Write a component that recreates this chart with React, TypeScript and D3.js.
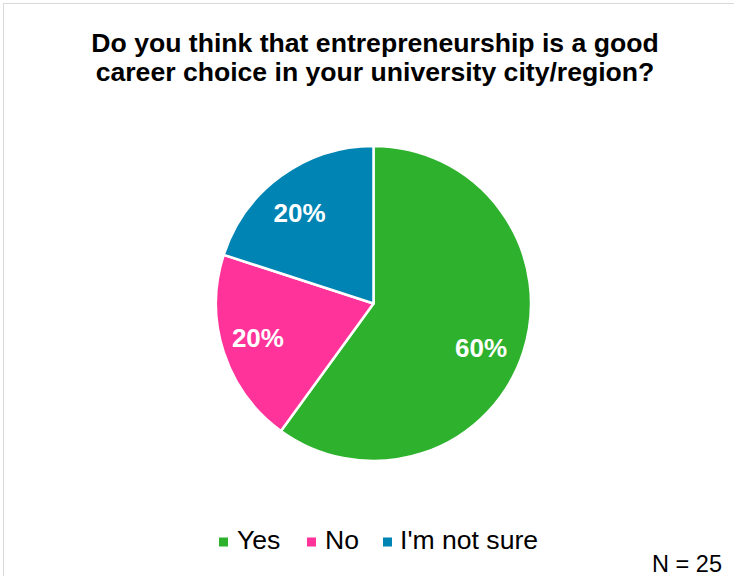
import React from "react";
import * as d3 from "d3";

const categories = ["Yes", "No", "I'm not sure"];
const values = [60, 20, 20];
const colors = ["#2EB22E", "#FF3399", "#0084B4"];
const titleLines = [
  "Do you think that entrepreneurship is a good",
  "career choice in your university city/region?",
];
const note = "N = 25";

export default function App() {
  const W = 734, H = 576;
  const cx = 373.5, cy = 303.5, r = 157.5;
  const pie = d3.pie<number>().sort(null).value((d) => d)(values);
  const arc = d3.arc<d3.PieArcDatum<number>>().innerRadius(0).outerRadius(r);
  const labelArc = d3.arc<d3.PieArcDatum<number>>().innerRadius(r * 0.745).outerRadius(r * 0.745);
  const labelNudge = [[-4, 8], [-4, -2], [-5, 4]];
  const font = "Liberation Sans, Arial, sans-serif";
  const legendX = [219, 307, 383];
  const legendTextX = [237, 325, 400];
  return (
    <svg width={W} height={H} style={{ position: "absolute", left: 0, top: 0 }} fontFamily={font}>
      <rect x={0} y={0} width={W} height={H} fill="#fff" />
      <rect x={3.5} y={3.5} width={W + 10} height={H + 10} fill="none" stroke="#d9d9d9" strokeWidth={1} />
      {titleLines.map((t, i) => (
        <text key={i} x={375} y={52 + i * 29} textAnchor="middle" fontSize={26.6} fontWeight="bold" fill="#000">
          {t}
        </text>
      ))}
      <g transform={`translate(${cx},${cy})`}>
        {pie.map((p, i) => (
          <path key={i} d={arc(p) || ""} fill={colors[i]} stroke="#fff" strokeWidth={2.5} strokeLinejoin="round" />
        ))}
        {pie.map((p, i) => {
          const [x, y] = labelArc.centroid(p);
          return (
            <text key={i} x={x + labelNudge[i][0]} y={y + labelNudge[i][1]} dy="0.35em" textAnchor="middle" fontSize={26} fontWeight="bold" fill="#fff">
              {values[i]}%
            </text>
          );
        })}
      </g>
      {categories.map((c, i) => (
        <g key={i}>
          <rect x={legendX[i]} y={537.5} width={9} height={9} fill={colors[i]} />
          <text x={legendTextX[i]} y={549} fontSize={26.6} fill="#000">{c}</text>
        </g>
      ))}
      <text x={722} y={572} textAnchor="end" fontSize={23.5} fill="#000">{note}</text>
    </svg>
  );
}
